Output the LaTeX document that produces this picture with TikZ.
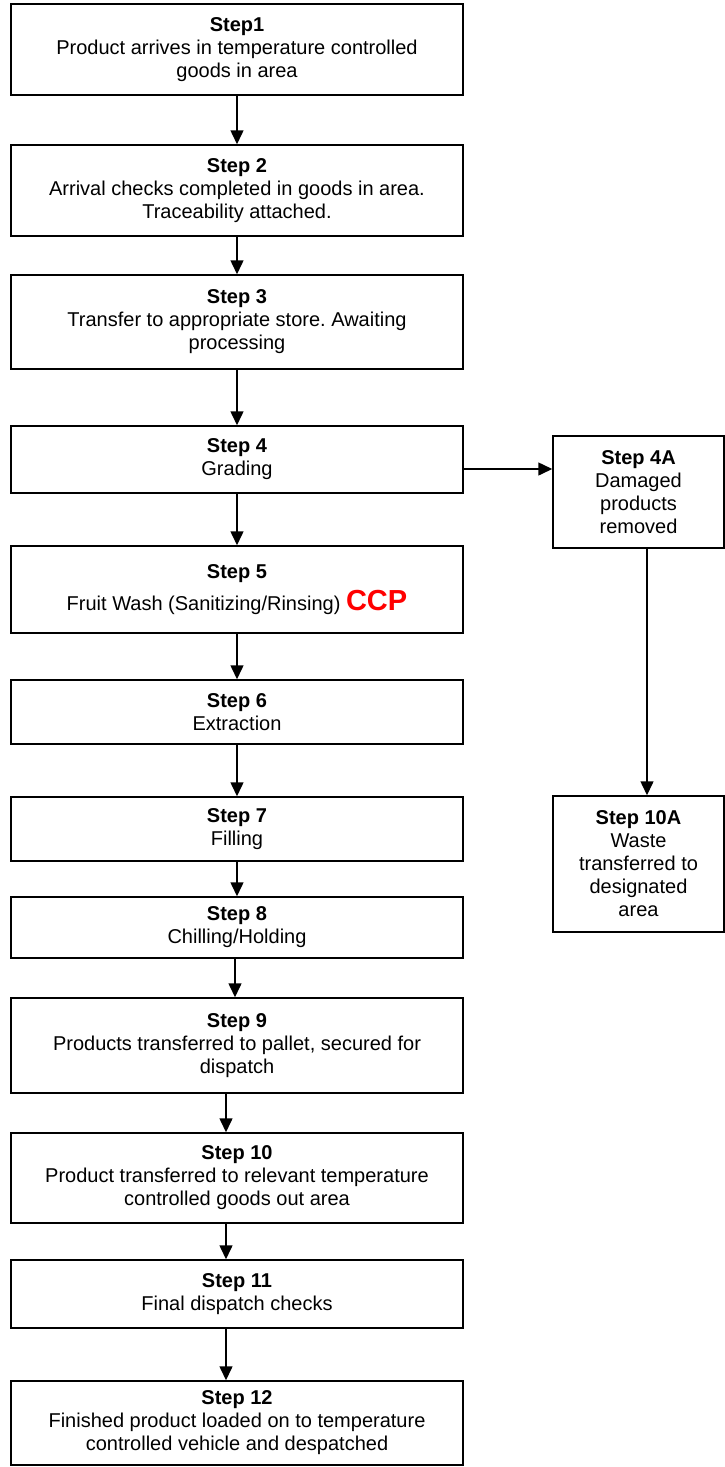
\documentclass[tikz,border=0pt]{standalone}
\usepackage{fontspec}
\setmainfont{Liberation Sans}
\usepackage{tikz}
\usetikzlibrary{positioning,arrows.meta}
\frenchspacing

\begin{document}
\begin{tikzpicture}[stepbox/.style={draw,line width=1.5pt,rectangle,align=center,inner sep=2pt,minimum width=452pt,font=\fontsize{20}{23}\selectfont},
    sidebox/.style={stepbox,minimum width=171pt},
    flow/.style={line width=1.5pt,-{Triangle[width=13pt,length=14pt]}}]
      \useasboundingbox (0,0) rectangle (725pt,-1467pt);
      \node[stepbox,minimum height=91pt](s1) at (237pt,-49.5pt){\textbf{Step1}\\Product arrives in temperature controlled\\goods in area};
      \node[stepbox,minimum height=91pt,below=48.5pt of s1](s2){\textbf{Step 2}\\Arrival checks completed in goods in area.\\Traceability attached.};
      \node[stepbox,minimum height=94pt,below=37.5pt of s2](s3){\textbf{Step 3}\\Transfer to appropriate store. Awaiting\\processing};
      \node[stepbox,minimum height=67pt,below=55.5pt of s3](s4){\textbf{Step 4}\\Grading};
      \node[stepbox,minimum height=87pt,below=51.5pt of s4](s5){\textbf{Step 5}\\[7pt]Fruit Wash (Sanitizing/Rinsing) \textcolor{red}{\fontsize{29}{33}\selectfont\bfseries CCP}};
      \node[stepbox,minimum height=64pt,below=45.5pt of s5](s6){\textbf{Step 6}\\Extraction};
      \node[stepbox,minimum height=64pt,below=51.5pt of s6](s7){\textbf{Step 7}\\Filling};
      \node[stepbox,minimum height=61pt,below=34.5pt of s7](s8){\textbf{Step 8}\\Chilling/Holding};
      \node[stepbox,minimum height=95pt,below=38.5pt of s8](s9){\textbf{Step 9}\\Products transferred to pallet, secured for\\dispatch};
      \node[stepbox,minimum height=90pt,below=38.5pt of s9](s10){\textbf{Step 10}\\Product transferred to relevant temperature\\controlled goods out area};
      \node[stepbox,minimum height=68pt,below=35.5pt of s10](s11){\textbf{Step 11}\\Final dispatch checks};
      \node[stepbox,minimum height=84pt,below=51.5pt of s11](s12){\textbf{Step 12}\\Finished product loaded on to temperature\\controlled vehicle and despatched};
      \node[sidebox,minimum height=112pt,right=88.5pt of s4,yshift=-32.5pt](s4a){\textbf{Step 4A}\\Damaged\\products\\removed};
      \node[sidebox,minimum height=136pt,below=246.5pt of s4a](s10a){\textbf{Step 10A}\\Waste\\transferred to\\designated\\area};

      \draw[flow] (s1) -- (s2);
      \draw[flow] (s2) -- (s3);
      \draw[flow] (s3) -- (s4);
      \draw[flow] (s4) -- (s5);
      \draw[flow] (s5) -- (s6);
      \draw[flow] (s6) -- (s7);
      \draw[flow] (s7) -- (s8);
      \draw[flow] ([xshift=-2pt]s8.south) -- ([xshift=-2pt]s9.north);
      \draw[flow] ([xshift=-11pt]s9.south) -- ([xshift=-11pt]s10.north);
      \draw[flow] ([xshift=-11pt]s10.south) -- ([xshift=-11pt]s11.north);
      \draw[flow] ([xshift=-11pt]s11.south) -- ([xshift=-11pt]s12.north);
      \draw[flow] ([yshift=-9.5pt]s4.east) -- ([yshift=-9.5pt]s4.east -| s4a.west);
      \draw[flow] ([xshift=8.5pt]s4a.south) -- ([xshift=8.5pt]s10a.north);
    \end{tikzpicture}
\end{document}
